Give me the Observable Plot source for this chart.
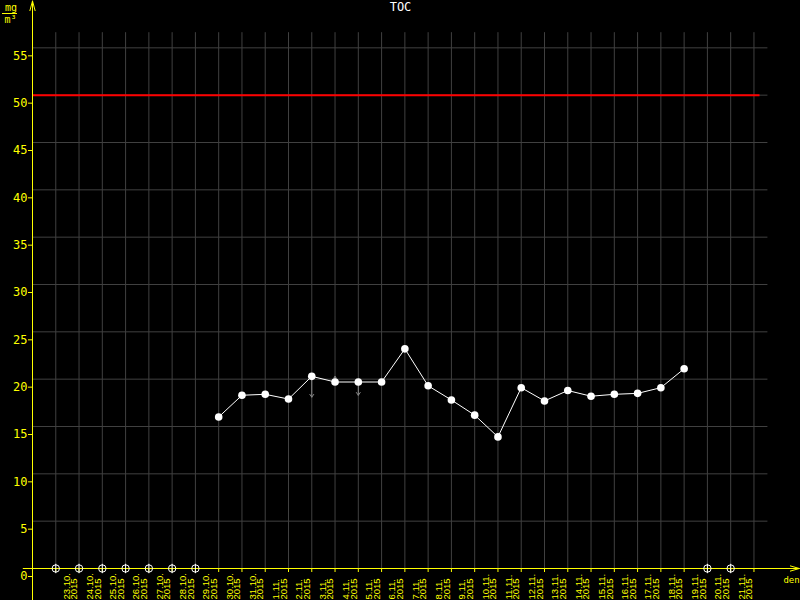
<!DOCTYPE html>
<html><head><meta charset="utf-8">
<script src="https://cdn.jsdelivr.net/npm/d3@7"></script>
<script src="https://cdn.jsdelivr.net/npm/@observablehq/plot@0.6"></script>
<style>html,body{margin:0;padding:0;background:#000;overflow:hidden}</style>
</head><body><div id="chart"></div>
<script>
const days = ["23.10.","24.10.","25.10.","26.10.","27.10.","28.10.","29.10.","30.10.","31.10.","1.11.","2.11.","3.11.","4.11.","5.11.","6.11.","7.11.","8.11.","9.11.","10.11.","11.11.","12.11.","13.11.","14.11.","15.11.","16.11.","17.11.","18.11.","19.11.","20.11.","21.11."];
const year = "2015";
const tocDays = ["30.10.","31.10.","1.11.","2.11.","3.11.","4.11.","5.11.","6.11.","7.11.","8.11.","9.11.","10.11.","11.11.","12.11.","13.11.","14.11.","15.11.","16.11.","17.11.","18.11.","19.11."];
const tocValues = [16.0,18.3,18.4,17.9,20.3,19.7,19.7,19.7,23.2,19.3,17.8,16.2,13.9,19.1,17.7,18.8,18.2,18.4,18.5,19.1,21.1];
const missingDays = ["23.10.","24.10.","25.10.","26.10.","27.10.","28.10.","29.10.","20.11.","21.11."];
const limitValues = [50];
const yTicks = [0,5,10,15,20,25,30,35,40,45,50,55];
const markDays = ["3.11.","4.11.","5.11."];
const markFrom = [20.3,19.7,19.7];
const markTo = [18.1,20.3,18.3];
const title = "TOC";
const unitTop = "mg", unitBottom = "m³", xName = "den";

// layout constants (not data)
const gridRight = 30.6, gridTop = 56.6, limitRight = 30.26;
const xAxisStart = -1.4, xAxisEnd = 31.95, yAxisBottom = -3.4, yAxisTop = 59.95;

const pos = d => days.indexOf(d);
const toc = tocDays.map((d, i) => ({x: pos(d), y: tocValues[i]}));
const missing = missingDays.map(d => ({x: pos(d), y: 0}));
const arrows = markDays.map((d, i) => ({x: pos(d), y1: markFrom[i], y2: markTo[i]}));
const tickPos = d3.range(days.length + 1);
const labels = days.map((d, i) => ({x: i + 0.5, text: d + "\n" + year}));

const ringSymbol = {
  draw(ctx, size) {
    const r = Math.sqrt(size / Math.PI);
    ctx.moveTo(r, 0);
    ctx.arc(0, 0, r, 0, 2 * Math.PI);
    ctx.moveTo(0, -r - 1);
    ctx.lineTo(0, r + 1);
  }
};

const chart = Plot.plot({
  width: 800, height: 600,
  marginLeft: 32, marginRight: 0, marginTop: 0, marginBottom: 32,
  style: {background: "#000", color: "#fff", fontFamily: "DejaVu Sans Mono"},
  x: {domain: [-1, 32], axis: null},
  y: {domain: [0, 60], axis: null},
  marks: [
    Plot.ruleY(yTicks.filter(v => v > 0), {x1: -1, x2: gridRight, stroke: "#404040"}),
    Plot.ruleX(tickPos, {y1: 0, y2: gridTop, stroke: "#404040"}),
    Plot.ruleY(limitValues, {x1: -1, x2: limitRight, stroke: "#ff0000", strokeWidth: 2}),
    Plot.arrow([0], {x1: xAxisStart, x2: xAxisEnd, y1: 0, y2: 0, stroke: "#ffff00", strokeWidth: 1, headLength: 14, headAngle: 32}),
    Plot.arrow([0], {x1: -1, x2: -1, y1: yAxisBottom, y2: yAxisTop, stroke: "#ffff00", strokeWidth: 1, headLength: 15, headAngle: 30}),
    Plot.axisY(yTicks, {tickSize: 4, tickPadding: 1, dy: 8, color: "#ffff00", fontSize: 12, label: null}),
    Plot.axisX(tickPos, {tickSize: 4, tickFormat: () => "", color: "#ffff00", label: null}),
    Plot.text(labels, {x: "x", text: "text", frameAnchor: "bottom", dx: 3.6, dy: 31, rotate: -90, fill: "#ffff00", fontSize: 9.5, fontFamily: "Liberation Sans", lineHeight: 0.8, textAnchor: "start", lineAnchor: "middle"}),
    Plot.dot(missing, {x: "x", y: "y", r: 3.7, stroke: "#fff", fill: "none", strokeWidth: 1, symbol: ringSymbol}),
    Plot.line(toc, {x: "x", y: "y", stroke: "#fff", strokeWidth: 1}),
    Plot.arrow(arrows, {x1: "x", x2: "x", y1: "y1", y2: "y2", stroke: "#888", strokeWidth: 1, headLength: 5, headAngle: 70}),
    Plot.dot(toc, {x: "x", y: "y", r: 3.8, fill: "#fff"}),
    Plot.text([title], {frameAnchor: "top", dx: -16, dy: 7, fill: "#fff", fontSize: 12, textAnchor: "middle", lineAnchor: "middle"}),
    Plot.text([unitTop], {frameAnchor: "top-left", dx: -21.5, dy: 7.5, fill: "#ffff00", fontSize: 10, textAnchor: "middle", lineAnchor: "middle"}),
    Plot.text([unitBottom], {frameAnchor: "top-left", dx: -22, dy: 19.5, fill: "#ffff00", fontSize: 10, textAnchor: "middle", lineAnchor: "middle"}),
    Plot.text([xName], {frameAnchor: "bottom-right", dx: -9, dy: 12, fill: "#ffff00", fontSize: 9, textAnchor: "middle", lineAnchor: "middle"})
  ]
});
d3.select(chart).append("line")
  .attr("x1", 2).attr("x2", 17).attr("y1", 13.5).attr("y2", 13.5)
  .attr("stroke", "#ffff00").attr("stroke-width", 1);
document.getElementById("chart").appendChild(chart);
</script>
</body></html>
